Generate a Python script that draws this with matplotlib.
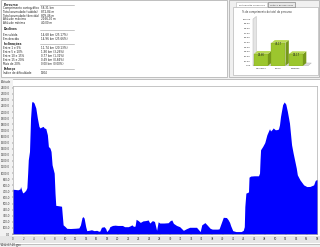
import matplotlib
matplotlib.use("Agg")
import matplotlib.pyplot as plt
from matplotlib.patches import Rectangle, Polygon

W, H = 320, 247

# elevation profile (km, m)
distance_km = [
    0.0, 0.5, 1.0, 1.4, 1.5, 1.7, 1.9, 2.2, 2.5, 2.7, 2.85, 2.97, 3.2, 3.4, 3.6, 3.7,
    3.9, 4.06, 4.4, 4.7, 5.0, 5.2, 5.5, 5.8, 6.0, 6.3, 6.6, 6.8, 7.1, 7.3, 7.5, 7.9,
    8.06, 8.2, 8.6, 9.0, 9.3, 9.45, 9.6, 10.0, 10.3, 11.0, 12.0, 12.6, 12.9, 13.2,
    13.4, 13.6, 13.9, 14.1, 14.5, 15.0, 15.5, 16.0, 16.4, 16.6, 16.9, 17.4, 17.7,
    17.9, 18.3, 18.5, 19.0, 19.5, 20.0, 20.9, 21.3, 22.0, 22.4, 22.7, 23.0, 23.3,
    23.5, 23.9, 24.3, 24.8, 25.3, 25.8, 26.1, 26.6, 27.0, 27.4, 27.7, 28.0, 28.8,
    29.6, 30.0, 30.3, 30.6, 31.2, 31.8, 32.5, 33.1, 33.7, 34.4, 35.0, 35.7, 36.0,
    36.6, 37.0, 37.6, 38.0, 39.0, 39.3, 39.8, 40.1, 40.7, 41.0, 41.3, 41.5, 41.9,
    42.5, 43.5, 43.9, 44.1, 44.2, 44.4, 44.9, 45.0, 45.3, 46.0, 46.8, 47.0, 47.1,
    47.2, 47.6, 48.0, 48.4, 48.9, 49.1, 49.4, 49.6, 50.0, 50.3, 50.6, 50.8, 51.0,
    51.4, 51.7, 52.0, 52.3, 52.7, 53.1, 53.4, 53.8, 54.0, 54.2, 54.7, 55.4, 56.0,
    56.6, 57.3, 57.6, 57.8, 58.0,
]
altitude_m = [
    735, 730, 725, 740, 778, 720, 674, 690, 720, 760, 1000, 1217, 1354, 1900, 2150, 2176,
    2165, 2150, 2067, 1900, 1765, 1740, 1755, 1765, 1740, 1730, 1628, 1436, 1410, 1354, 1135, 998,
    669, 470, 465, 460, 455, 300, 150, 120, 93, 90, 95, 100, 150, 270,
    285, 260, 120, 55, 60, 70, 55, 60, 45, 50, 110, 120, 90,
    40, 80, 120, 140, 145, 140, 140, 120, 120, 135, 150, 125, 130,
    241, 220, 190, 215, 220, 230, 180, 220, 205, 60, 200, 180, 180,
    185, 220, 230, 175, 140, 120, 60, 88, 110, 110, 110, 40, 150,
    187, 150, 93, 80, 80, 85, 203, 274, 270, 237, 190, 137, 55,
    40, 40, 60, 120, 450, 670, 690, 932, 950, 955, 955, 998, 1217,
    1382, 1436, 1500, 1628, 1727, 1690, 1715, 1740, 1710, 1712, 1722, 1790, 1930,
    2122, 2166, 2130, 2011, 1820, 1464, 1327, 1163, 1080, 970, 888, 806, 778,
    780, 806, 877, 890, 890,
]
x_ticks = list(range(0, 60, 2))
y_ticks = list(range(0, 2500, 100))

# slope distribution (% of route length)
slope_classes = ["Descidas", "Plano", "Subidas"]
slope_share = [25.66, 49.17, 25.17]
share_ticks = list(range(0, 110, 10))

# summary panel: (label, value, is_header)
summary_rows = [
    ("Percurso", "", True),
    ("Comprimento cartográfico", "58,31 km", False),
    ("Total acumulado (subida)", "872,84 m", False),
    ("Total acumulado (descida)", "809,46 m", False),
    ("Altitude máxima", "2166,00 m", False),
    ("Altitude mínima", "40,00 m", False),
    ("Declives", "", True),
    ("Em subida", "14,68 km (25,17%)", False),
    ("Em descida", "14,96 km (25,66%)", False),
    ("Inclinações", "", True),
    ("Entre 1 e 5%", "11,74 km (20,13%)", False),
    ("Entre 5 e 10%", "1,90 km (3,26%)", False),
    ("Entre 10 e 15%", "0,77 km (1,32%)", False),
    ("Entre 15 e 20%", "0,49 km (0,84%)", False),
    ("Mais de 20%", "0,00 km (0,00%)", False),
    ("Esforço", "", True),
    ("Índice de dificuldade", "1304", False),
]
row_y = [5, 8.3, 12, 15.7, 19, 22.7, 29.3, 34.7, 38.7, 43.7, 47.7, 51.7, 56, 60, 64.3, 69, 73]


def frac(x0, y0, x1, y1):
    """Pixel box (top-left origin) -> figure rect."""
    return [x0 / W, 1 - y1 / H, (x1 - x0) / W, (y1 - y0) / H]


fig = plt.figure(figsize=(W / 100, H / 100), dpi=100)
fig.patch.set_facecolor("#f0f0f0")

# background / frame layer in pixel coordinates
bg = fig.add_axes([0, 0, 1, 1])
bg.set_xlim(0, W)
bg.set_ylim(H, 0)
bg.axis("off")
bg.add_patch(Rectangle((0.5, 0.5), 226, 77, fc="white", ec="#a8a8a8", lw=0.5))
bg.add_patch(Rectangle((229, 0.5), 90, 77, fc="#f0f0f0", ec="#a8a8a8", lw=0.5))
bg.add_patch(Rectangle((233, 7.5), 84.5, 68, fc="white", ec="#b8b8b8", lw=0.5))
bg.add_patch(Rectangle((236, 2), 31, 5.5, fc="white", ec="#b8b8b8", lw=0.4))
bg.add_patch(Rectangle((268, 2.5), 27, 5, fc="#e8e8e8", ec="#707070", lw=0.4))
bg.text(251.5, 4.8, "Distribuição do Declive", fontsize=1.6, ha="center", va="center", color="#333333")
bg.text(281.5, 5.0, "Gráfico dos Declives", fontsize=1.6, ha="center", va="center", color="#333333")
bg.text(241.5, 12.3, "% de comprimento do total do percurso", fontsize=1.8, ha="left", va="center", color="#333333")

# chart region
bg.add_patch(Rectangle((0, 79), W, 165, fc="white", ec="#a8a8a8", lw=0.5))
bg.add_patch(Rectangle((0, 79), 12.7, 157, fc="#f2f2f2", ec="none"))
bg.add_patch(Rectangle((0, 235.5), W, 7.5, fc="#e6e6e6", ec="none"))
bg.text(1, 81.5, "Altitude", fontsize=1.9, ha="left", va="center", color="#333333")
bg.text(1, 245, "2012-07-20.gpx", fontsize=1.9, ha="left", va="center", color="#333333")

for (label, value, header), y in zip(summary_rows, row_y):
    bg.text(3.3, y, label, fontsize=2.1 if header else 1.95, ha="left", va="center", color="#222222",
            fontweight="bold" if header else "normal")
    if header:
        bg.plot([40, 74], [y + 0.5, y + 0.5], color="#9a9a9a", lw=0.4)
    else:
        bg.text(40.7, y, value, fontsize=1.95, ha="left", va="center", color="#222222")

# elevation profile
ax = fig.add_axes(frac(12.7, 86, 317.3, 234))
ax.fill_between(distance_km, altitude_m, 0, color="#0000ff", lw=0)
ax.set_xlim(0, 58)
ax.set_ylim(0, 2428)
ax.set_facecolor("white")
ax.set_xticks(x_ticks, labels=[str(v) for v in x_ticks])
ax.set_yticks(y_ticks, labels=[f"{v:.1f}".replace(".", ",") for v in y_ticks])
ax.tick_params(axis="both", labelsize=1.9, length=1, width=0.3, pad=1, colors="#333333")
for spine in ax.spines.values():
    spine.set_linewidth(0.4)
    spine.set_color("#9a9a9a")

# 3D-looking slope distribution bars
bax = fig.add_axes(frac(253, 19.1, 308, 65.7))
xmin, xmax = -0.457, 2.686
bax.set_xlim(xmin, xmax)
bax.set_ylim(0, 100)
dx, dy = 0.19, 5.8
bax.add_patch(Polygon([(xmin, 0), (xmin + dx, dy), (xmin + dx, 100 + dy), (xmin, 100)],
                      closed=True, fc="#e4e4e4", ec="#b0b0b0", lw=0.3, clip_on=False))
bax.add_patch(Polygon([(xmin, 0), (xmax, 0), (xmax + dx, dy), (xmin + dx, dy)],
                      closed=True, fc="#dcdcdc", ec="#b0b0b0", lw=0.3, clip_on=False))
bars = bax.bar(range(len(slope_share)), slope_share, width=0.8, color="#9cc62e",
               ec="#7a9a1c", lw=0.2, zorder=3)
for bar, value in zip(bars, slope_share):
    x0 = bar.get_x()
    x1 = x0 + bar.get_width()
    bax.add_patch(Polygon([(x1, 0), (x1 + dx, dy), (x1 + dx, value + dy), (x1, value)],
                          closed=True, fc="#76981a", ec="none", zorder=2, clip_on=False))
    bax.add_patch(Polygon([(x0, value), (x0 + dx, value + dy), (x1 + dx, value + dy), (x1, value)],
                          closed=True, fc="#b9d955", ec="none", zorder=2, clip_on=False))
    bax.text(bar.get_x() + bar.get_width() / 2, value - 2.5, f"{value:.2f}".replace(".", ","),
             fontsize=1.8, ha="center", va="center", color="#222222", zorder=4)
bax.set_xticks(range(len(slope_classes)), labels=slope_classes)
bax.set_yticks(share_ticks, labels=[f"{v:.2f}".replace(".", ",") for v in share_ticks])
bax.tick_params(axis="both", labelsize=1.7, length=0, pad=1.5, colors="#333333")
for spine in bax.spines.values():
    spine.set_visible(False)
bax.set_facecolor("white")

fig.savefig("out.png", dpi=100, facecolor=fig.get_facecolor())
